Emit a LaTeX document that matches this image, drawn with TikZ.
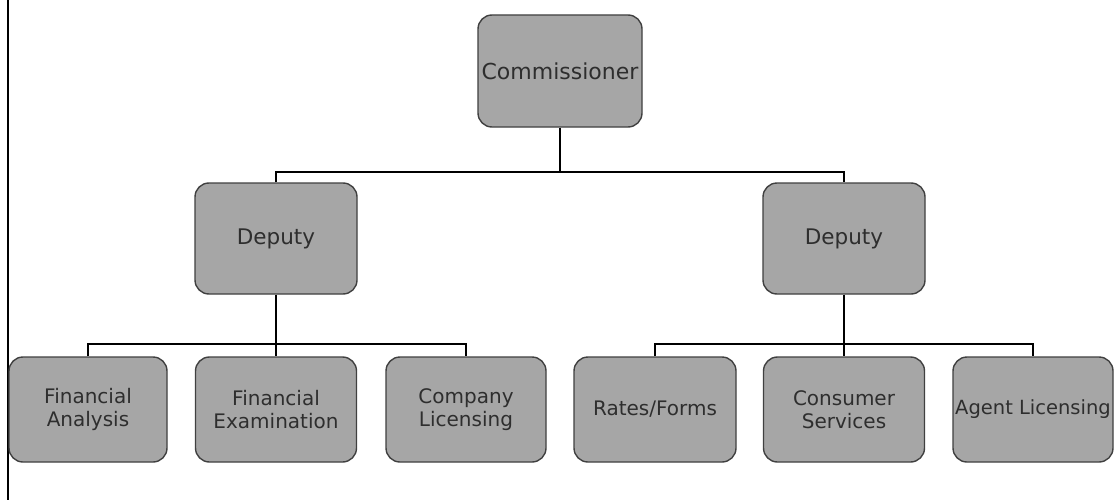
\documentclass[tikz,border=0pt]{standalone}
\usepackage{fontspec}
\setmainfont{DejaVu Sans}
\begin{document}
\begin{tikzpicture}[x=1pt,y=-1pt,
  box/.style={draw=boxedge, line width=1.4pt, fill=boxfill, rounded corners=14pt,
    text=boxtext, align=center, inner sep=0pt, font=\fontsize{20}{23}\selectfont},
  conn/.style={draw=black, line width=2.4pt}]
\definecolor{boxfill}{HTML}{A6A6A6}
\definecolor{boxedge}{HTML}{404040}
\definecolor{boxtext}{HTML}{2E2E2E}
\useasboundingbox (0,0) rectangle (1115,500);
\fill[white] (0,0) rectangle (1115,500);
\draw[line width=1.8pt] (8,0) -- (8,500);
% nodes
\node[box, minimum width=164pt, minimum height=112pt, font=\fontsize{22}{26}\selectfont] (com) at (560,71) {Commissioner};
\node[box, minimum width=162pt, minimum height=111pt, font=\fontsize{21.5}{25}\selectfont] (depL) at (276,238.5) {Deputy};
\node[box, minimum width=162pt, minimum height=111pt, font=\fontsize{21.5}{25}\selectfont] (depR) at (844,238.5) {Deputy};
\node[box, minimum width=158pt, minimum height=105pt] (fa) at (88,409.5) {Financial\\Analysis};
\node[box, minimum width=161pt, minimum height=105pt] (fe) at (276,409.5) {Financial\\Examination};
\node[box, minimum width=160pt, minimum height=105pt] (cl) at (466,409.5) {Company\\Licensing};
\node[box, minimum width=162pt, minimum height=105pt] (rf) at (655,409.5) {Rates/Forms};
\node[box, minimum width=161pt, minimum height=105pt] (cs) at (844,409.5) {Consumer\\Services};
\node[box, minimum width=160pt, minimum height=105pt, font=\fontsize{19.5}{23}\selectfont] (al) at (1033,409.5) {Agent Licensing};
% junction coordinates
\coordinate (jtop) at (560,172);
\coordinate (jl) at (276,344);
\coordinate (jr) at (844,344);
% connectors
\draw[conn] (com.south) -- (jtop);
\draw[conn] (depL.north) |- (jtop) -| (depR.north);
\draw[conn] (depL.south) -- (fe.north);
\draw[conn] (fa.north) |- (jl) -| (cl.north);
\draw[conn] (depR.south) -- (cs.north);
\draw[conn] (rf.north) |- (jr) -| (al.north);
\end{tikzpicture}
\end{document}
